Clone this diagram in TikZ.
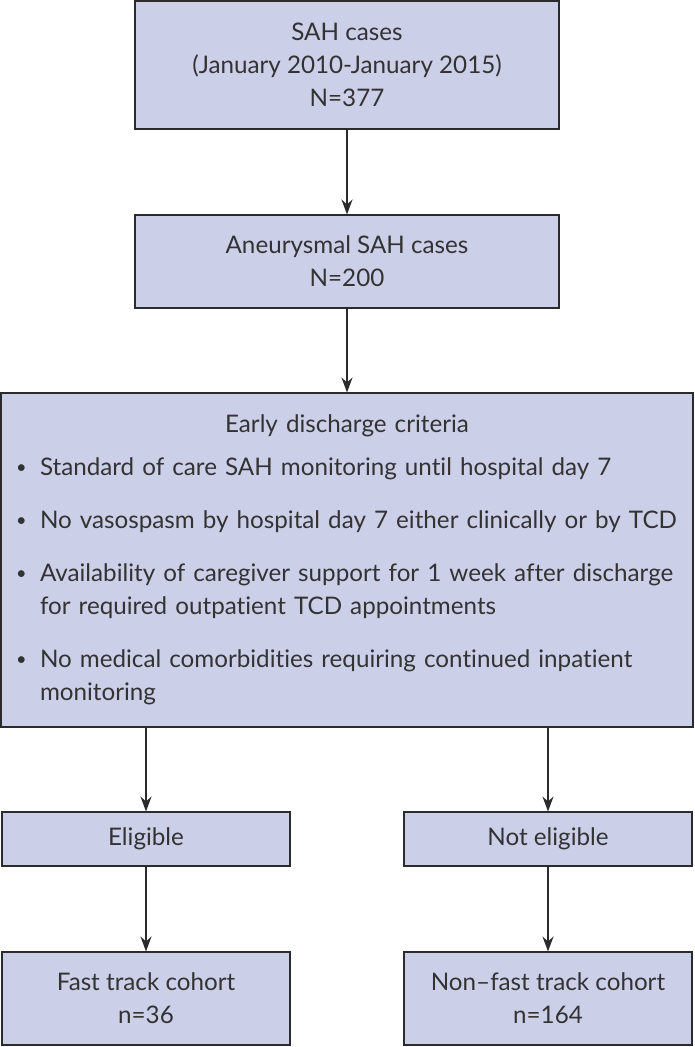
\documentclass[tikz,border=0pt]{standalone}
\usepackage{fontspec}
\setmainfont{Lato}[Ligatures=NoCommon]
\usepackage{graphicx}
\usepackage{tikz}
\usetikzlibrary{positioning}
\usetikzlibrary{arrows.meta}
\definecolor{boxfill}{HTML}{CBCFE8}
\definecolor{boxline}{HTML}{2B2B2B}
\definecolor{textgray}{HTML}{333333}
\newcommand{\critem}[1]{\par\vspace{20pt}\hangindent=26pt\hangafter=1\noindent
    \makebox[26pt][l]{\hspace{2pt}\raisebox{1.5pt}{\scalebox{0.75}{\textbullet}}}#1\par}

\begin{document}
\begin{tikzpicture}[x=1pt,y=1pt,node distance=86pt,
    box/.style={draw=boxline, fill=boxfill, line width=2pt, inner sep=0pt, outer sep=0pt,
        align=center, text=textgray, font=\fontsize{24.2}{33}\selectfont},
    arr/.style={-{Stealth[length=15pt,width=11pt,inset=5pt]}, line width=2pt, draw=boxline}]
        \useasboundingbox (0,0) rectangle (694,-1047);
        % Nodes
        \node[box, minimum width=424pt, minimum height=128pt] (cases) at (347,-64.5)
            {SAH cases\\(January 2010-January 2015)\\N=377};
        \node[box, below=of cases, minimum width=424pt, minimum height=93pt] (aneu)
            {Aneurysmal SAH cases\\N=200};
        \node[box, below=85pt of aneu, minimum width=692pt, minimum height=334pt,
            text width=666pt, align=left] (crit)
            {\centering Early discharge criteria\par\raggedright\vspace{-10pt}%
            \critem{Standard of care SAH monitoring until hospital day 7}%
            \critem{No vasospasm by hospital day 7 either clinically or by TCD}%
            \critem{Availability of caregiver support for 1 week after discharge\newline for required outpatient TCD appointments}%
            \critem{No medical comorbidities requiring continued inpatient\newline monitoring}};
        \node[box, below=85pt of crit.south west, anchor=north west, xshift=1pt,
            minimum width=288pt, minimum height=54pt] (elig) {Eligible};
        \node[box, below=85pt of crit.south east, anchor=north east, xshift=-1pt,
            minimum width=288pt, minimum height=54pt] (notelig) {Not eligible};
        \node[box, below=of elig, minimum width=288pt, minimum height=93pt] (fast)
            {Fast track cohort\\n=36};
        \node[box, below=of notelig, minimum width=288pt, minimum height=93pt] (nonfast)
            {Non--fast track cohort\\n=164};
        % Edges
        \draw[arr] (cases) -- (aneu);
        \draw[arr] (aneu) -- (crit);
        \draw[arr] (crit.south -| elig) -- (elig);
        \draw[arr] (crit.south -| notelig) -- (notelig);
        \draw[arr] (elig) -- (fast);
        \draw[arr] (notelig) -- (nonfast);
    \end{tikzpicture}
\end{document}
